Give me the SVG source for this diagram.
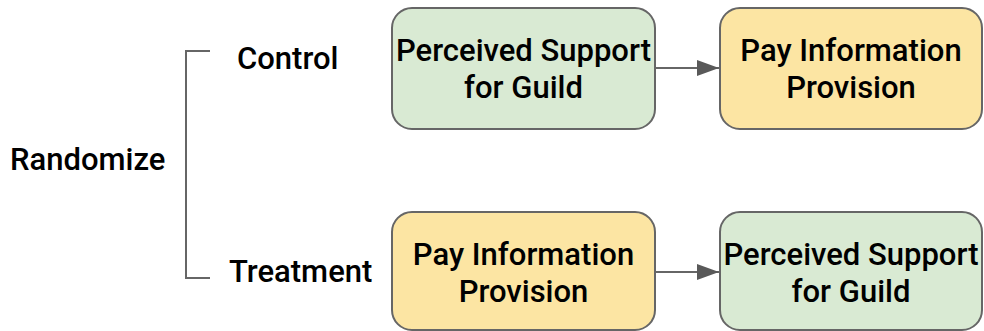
<svg xmlns="http://www.w3.org/2000/svg" width="984" height="331" viewBox="0 0 984 331">
<defs>
<style>
.box{stroke:#666666;stroke-width:2}
.green{fill:#d9ead3}
.yellow{fill:#fce5a3}
.t{font-family:Roboto,"Liberation Sans",sans-serif;font-weight:500;fill:#000;text-anchor:middle;font-size:31px}
.lbl{font-family:Roboto,"Liberation Sans",sans-serif;font-weight:500;fill:#000;font-size:31px}
.ln{stroke:#666666;stroke-width:2;fill:none}
</style>
<marker id="ah" markerWidth="22" markerHeight="16" refX="22" refY="8" orient="auto" markerUnits="userSpaceOnUse"><path d="M0,0 L22,8 L0,16 Z" fill="#595959"/></marker>
</defs>
<rect width="984" height="331" fill="#ffffff"/>
<g id="randomize"><text class="lbl" x="10" y="170">Randomize</text></g>
<g id="control"><text class="lbl" x="237" y="69">Control</text></g>
<g id="treatment"><text class="lbl" x="229" y="282">Treatment</text></g>
<g id="control-support">
<rect class="box green" x="392" y="8" width="263" height="121" rx="20"/>
<text class="t" x="523.5" y="61">Perceived Support</text>
<text class="t" x="523.5" y="98">for Guild</text>
</g>
<g id="control-pay">
<rect class="box yellow" x="720" y="8" width="262" height="121" rx="20"/>
<text class="t" x="851" y="61">Pay Information</text>
<text class="t" x="851" y="98">Provision</text>
</g>
<g id="treatment-pay">
<rect class="box yellow" x="392" y="212" width="263" height="118" rx="20"/>
<text class="t" x="523.5" y="265">Pay Information</text>
<text class="t" x="523.5" y="302">Provision</text>
</g>
<g id="treatment-support">
<rect class="box green" x="720" y="212" width="262" height="118" rx="20"/>
<text class="t" x="851" y="265">Perceived Support</text>
<text class="t" x="851" y="302">for Guild</text>
</g>
<g id="connectors">
<path class="ln" d="M210,51 H186 V278 H210"/>
<line class="ln" x1="655" y1="68" x2="719" y2="68" marker-end="url(#ah)"/>
<line class="ln" x1="655" y1="272" x2="719" y2="272" marker-end="url(#ah)"/>
</g>
</svg>
